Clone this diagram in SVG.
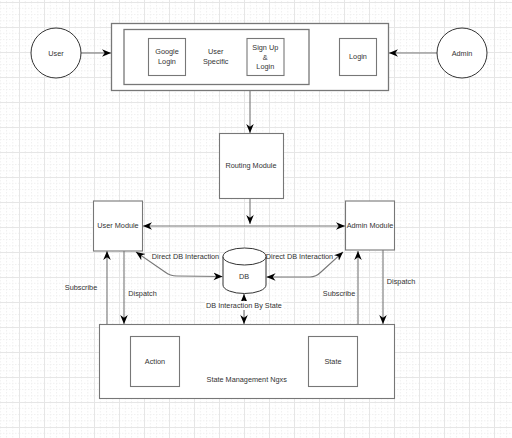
<svg xmlns="http://www.w3.org/2000/svg" width="512" height="438" viewBox="0 0 512 438">
<defs>
<pattern id="grid" patternUnits="userSpaceOnUse" x="19" y="2" width="25" height="25">
<path d="M0,6.25 H25 M0,12.5 H25 M0,18.75 H25 M6.25,0 V25 M12.5,0 V25 M18.75,0 V25" stroke="#f0f0f0" stroke-width="1" stroke-dasharray="1.5,1.5" fill="none"/>
<path d="M0,0.5 H25 M0.5,0 V25" stroke="#e6e6e6" stroke-width="1" fill="none"/>
</pattern>
<marker id="arr" viewBox="0 0 10 10" refX="10" refY="5" markerWidth="9" markerHeight="9" markerUnits="userSpaceOnUse" orient="auto-start-reverse">
<path d="M0,0.8 L10,5 L0,9.2 L3,5 Z" fill="#000"/>
</marker>
</defs>
<style>
.box{fill:#fff;stroke:#777;stroke-width:1.1}
.frame{fill:#fff;stroke:#777;stroke-width:1.3}
.t{font-family:"Liberation Sans",Arial,sans-serif;font-size:7.3px;fill:#333;text-anchor:middle}
.c{fill:none;stroke:#777;stroke-width:1.1}
.a{marker-end:url(#arr)}
.aa{marker-start:url(#arr);marker-end:url(#arr)}
</style>
<rect width="512" height="438" fill="#fff"/>
<rect width="512" height="438" fill="url(#grid)"/>

<g id="connectors">
<path class="c a" d="M81,53 L111,53"/>
<path class="c a" d="M437,53 L389,53"/>
<path class="c a" d="M250,90 L250,133"/>
<path class="c a" d="M250,198 L250,224"/>
<path class="c aa" d="M143,226 L345,226"/>
<path class="c aa" d="M136,252 L165,272 Q170,276 177,276 L222.5,276.5"/>
<path class="c aa" d="M266.5,277 L310,277 Q316,277 321,272 L343,252"/>
<path class="c aa" d="M244,294 L244,324"/>
<path class="c a" d="M107,324 L107,251"/>
<path class="c a" d="M124,251 L124,324"/>
<path class="c a" d="M358,324 L358,251"/>
<path class="c a" d="M383,250 L383,324"/>
<path class="c aa" d="M179.5,361.5 L308,361.5"/>
</g>

<g id="user">
<circle cx="56" cy="53" r="25" fill="#fff" stroke="#333" stroke-width="1"/>
<text class="t" x="56" y="56">User</text>
</g>
<g id="admin">
<circle cx="462" cy="53" r="25" fill="#fff" stroke="#333" stroke-width="1"/>
<text class="t" x="462" y="56">Admin</text>
</g>

<g id="auth">
<rect class="frame" x="111.5" y="23.5" width="277" height="67"/>
</g>
<g id="user-specific">
<rect class="frame" x="124" y="29.5" width="185" height="55"/>
<text class="t" x="215.7" y="53.6">User</text>
<text class="t" x="215.7" y="63.6">Specific</text>
</g>
<g id="google-login">
<rect class="box" x="148.5" y="38.5" width="37" height="37"/>
<text class="t" x="167" y="53.6">Google</text>
<text class="t" x="167" y="63.6">Login</text>
</g>
<g id="signup-login">
<rect class="box" x="247" y="38.5" width="37" height="37"/>
<text class="t" x="265.3" y="50.3">Sign Up</text>
<text class="t" x="265.3" y="59.6">&amp;</text>
<text class="t" x="265.3" y="69">Login</text>
</g>
<g id="admin-login">
<rect class="box" x="339.5" y="38.5" width="37" height="37"/>
<text class="t" x="358" y="59">Login</text>
</g>

<g id="routing">
<rect class="box" x="219.5" y="133.5" width="64" height="65"/>
<text class="t" x="251" y="168.3">Routing Module</text>
</g>

<g id="user-module">
<rect class="box" x="93.5" y="201" width="49" height="50"/>
<text class="t" x="118" y="228.3">User Module</text>
</g>
<g id="admin-module">
<rect class="box" x="345.5" y="201" width="49" height="49"/>
<text class="t" x="370" y="228.3">Admin Module</text>
</g>

<g id="db">
<path d="M223,256.5 L223,285 A21.5,8.5 0 0 0 266,285 L266,256.5" fill="#fff" stroke="#333" stroke-width="1"/>
<ellipse cx="244.5" cy="256.5" rx="21.5" ry="8.5" fill="#fff" stroke="#333" stroke-width="1"/>
<text class="t" x="244" y="279.3">DB</text>
</g>

<g id="labels">
<text class="t" x="185.5" y="259">Direct DB Interaction</text>
<text class="t" x="299.5" y="259">Direct DB Interaction</text>
<rect x="205" y="301" width="78" height="9" fill="#fff"/>
<text class="t" x="244" y="308.3">DB Interaction By State</text>
<text class="t" x="81" y="290">Subscribe</text>
<text class="t" x="142.5" y="296">Dispatch</text>
<text class="t" x="339" y="296">Subscribe</text>
<text class="t" x="401" y="283.6">Dispatch</text>
</g>

<g id="state-management">
<rect class="box" x="99.5" y="324.5" width="295" height="74"/>
<text class="t" x="246.7" y="381.6">State Management Ngxs</text>
</g>
<g id="action">
<rect class="box" x="130.5" y="336.5" width="49" height="50"/>
<text class="t" x="155" y="363.6">Action</text>
</g>
<g id="state">
<rect class="box" x="308.5" y="336.5" width="49" height="50"/>
<text class="t" x="333" y="363.6">State</text>
</g>
</svg>
